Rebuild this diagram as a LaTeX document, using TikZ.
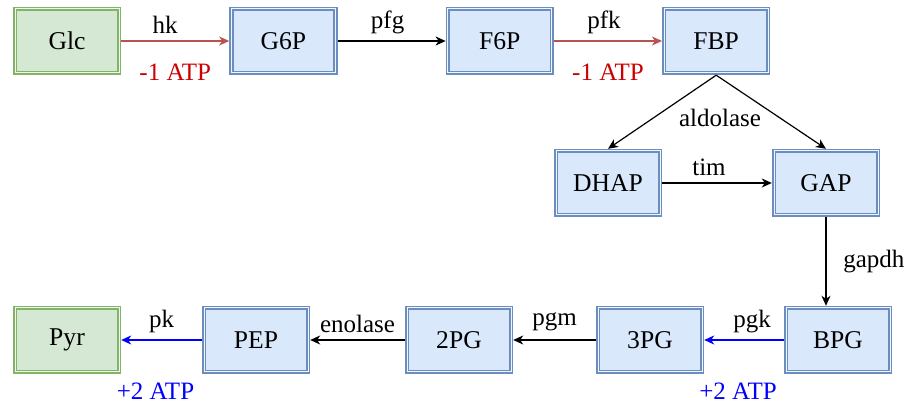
\documentclass[tikz,border=0pt]{standalone}
\usepackage{fontspec}
\setmainfont{Liberation Serif}
\usepackage{tikz}
\usetikzlibrary{arrows.meta,positioning}
\definecolor{endfill}{HTML}{D5E8D4}
\definecolor{endline}{HTML}{82B366}
\definecolor{metfill}{HTML}{DAE8FC}
\definecolor{metline}{HTML}{6C8EBF}
\definecolor{costline}{HTML}{B85450}
\definecolor{costtext}{HTML}{CC0000}
\definecolor{gaincol}{HTML}{0000FF}
\tikzset{
  metbox/.style={
    draw=metline,
    line width=0.85pt,
    double=metfill!40!white,
    double distance=0.5pt,
    fill=metfill,
    outer sep=1.1pt,
    minimum width=52pt,
    minimum height=32pt,
    font=\fontsize{12.8}{15}\selectfont
  },
  endbox/.style={metbox, draw=endline, double=endfill!40!white, fill=endfill},
  lbl/.style={font=\fontsize{12.5}{15}\selectfont},
  costlbl/.style={lbl, text=costtext},
  gainlbl/.style={lbl, text=gaincol},
  rxn/.style={-{Stealth[length=5pt,width=4.5pt,inset=1.5pt]}, line width=0.6pt},
  costrxn/.style={rxn, draw=costline},
  gainrxn/.style={rxn, draw=gaincol}
}

\begin{document}
\begin{tikzpicture}[x=0.5pt, y=-0.5pt]
\useasboundingbox (0,0) rectangle (906,405);

% upper row
\node[endbox] (glc) at (67,41) {Glc};
\node[metbox, right=54pt of glc] (g6p) {G6P};
\node[metbox, right=54pt of g6p] (f6p) {F6P};
\node[metbox, right=54pt of f6p] (fbp) {FBP};

% split
\node[metbox] (dhap) at (608,183) {DHAP};
\node[metbox] (gap) at (826,183) {GAP};

% lower row
\node[metbox] (bpg) at (838,340) {BPG};
\node[metbox] (pg3) at (650,340) {3PG};
\node[metbox] (pg2) at (459,340) {2PG};
\node[metbox] (pep) at (256,340) {PEP};
\node[endbox] (pyr) at (67,340) {Pyr};

\draw[costrxn] (glc) -- node[lbl, above, xshift=-5pt] {hk} node[costlbl, below=8pt] {-1 ATP} (g6p);
\draw[rxn] (g6p) -- node[lbl, above, xshift=-2pt] {pfg} (f6p);
\draw[costrxn] (f6p) -- node[lbl, above, xshift=-2pt] {pfk} node[costlbl, below=8pt] {-1 ATP} (fbp);

\draw[rxn] (fbp.south) -- (dhap.north);
\draw[rxn] (fbp.south) -- (gap.north);
\node[lbl] (aldo) at (720,118) {aldolase};
\draw[rxn] (dhap) -- node[lbl, above, xshift=-4pt] {tim} (gap);

\draw[rxn] (gap.south) -- node[lbl, right=5pt] {gapdh} (gap.south |- bpg.north);

\draw[gainrxn] (bpg) -- node[lbl, above, xshift=4pt] {pgk} node[gainlbl, below=18pt, xshift=-3pt] {+2 ATP} (pg3);
\draw[rxn] (pg3) -- node[lbl, above=1pt] {pgm} (pg2);
\draw[rxn] (pg2) -- node[lbl, above] {enolase} (pep);
\draw[gainrxn] (pep) -- node[lbl, above] {pk} node[gainlbl, below=18pt, xshift=-3pt] {+2 ATP} (pyr);
\end{tikzpicture}
\end{document}
